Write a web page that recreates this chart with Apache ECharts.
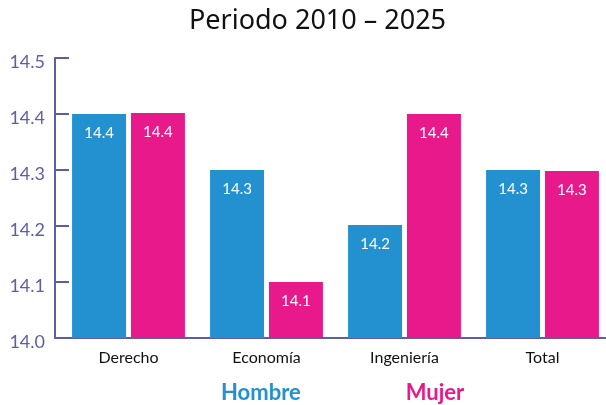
<!DOCTYPE html>
<html><head><meta charset="utf-8">
<script src="https://cdn.jsdelivr.net/npm/echarts@6/dist/echarts.min.js"></script>
<style>html,body{margin:0;padding:0;background:#fff}#c{width:606px;height:405px}</style>
</head><body><div id="c"></div>
<script>
const categories = ['Derecho', 'Economía', 'Ingeniería', 'Total'];
const hombre = [14.4, 14.3, 14.202, 14.3];
const mujer = [14.402, 14.1, 14.4, 14.298];
const yTicks = ['14.0', '14.1', '14.2', '14.3', '14.4', '14.5'];
const seriesNames = ['Hombre', 'Mujer'];
const colors = ['#2390d0', '#e8198b'];
const axisColor = '#5c5fa3';
const font = 'Lato';

const chart = echarts.init(document.getElementById('c'));
const mkSeries = (name, data, color) => ({
  name, type: 'bar', data, barWidth: 54, barGap: '9%',
  itemStyle: { color },
  label: { show: true, position: 'insideTop', distance: 12, color: '#fff', fontFamily: font, fontSize: 15,
           formatter: p => p.value.toFixed(1) }
});
chart.setOption({
  animation: false,
  title: { text: 'Periodo 2010 – 2025', left: 184, top: 3,
           textStyle: { fontFamily: 'Noto Sans', fontWeight: 'normal', fontSize: 27, color: '#111' } },
  grid: { left: 59.5, width: 552, top: 58, bottom: 67, outerBoundsMode: 'none' },
  legend: { top: 382, left: 216, padding: 0, itemWidth: 0, itemHeight: 0, itemGap: 100, icon: 'none',
            data: seriesNames.map((n, i) => ({ name: n, textStyle: { color: colors[i] } })),
            textStyle: { fontFamily: font, fontWeight: 'bold', fontSize: 22 } },
  xAxis: { type: 'category', data: categories,
           axisLine: { lineStyle: { color: axisColor, width: 2 } }, axisTick: { show: false },
           axisLabel: { color: '#111', fontFamily: font, fontSize: 16, margin: 12 } },
  yAxis: { type: 'value', min: 14.0, max: 14.5, interval: 0.1, offset: 4.5,
           axisLine: { show: true, lineStyle: { color: axisColor, width: 2 } },
           axisTick: { show: true, inside: true, length: 14, lineStyle: { color: axisColor, width: 2 } },
           splitLine: { show: false },
           axisLabel: { color: axisColor, fontFamily: font, fontSize: 18, margin: 10,
                        verticalAlign: 'top', lineHeight: 8,
                        formatter: (v) => yTicks[Math.round((v - 14.0) * 10)] } },
  graphic: [{ type: 'line', shape: { x1: 54, y1: 338, x2: 61, y2: 338 },
              style: { stroke: axisColor, lineWidth: 2 } }],
  series: [mkSeries(seriesNames[0], hombre, colors[0]), mkSeries(seriesNames[1], mujer, colors[1])]
});
</script></body></html>
